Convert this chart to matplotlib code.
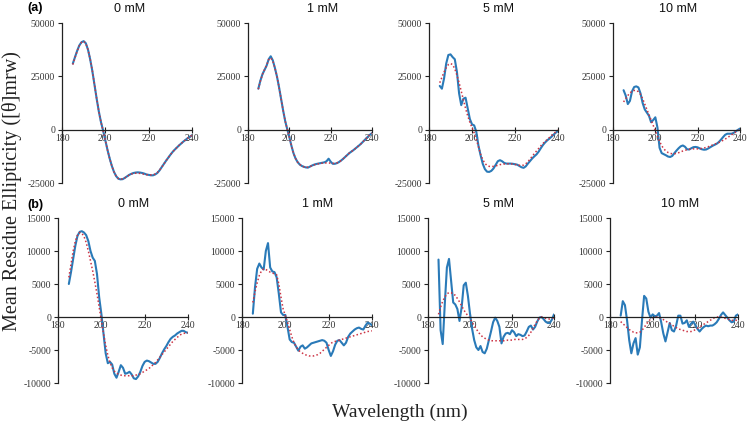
import numpy as np
import matplotlib
matplotlib.use("Agg")
import matplotlib.pyplot as plt

plt.rcParams['axes.unicode_minus'] = False

wavelength = list(range(185, 241))

a_titles = ["0 mM", "1 mM", "5 mM", "10 mM"]
b_titles = ["0 mM", "1 mM", "5 mM", "10 mM"]

a_yticks = [-25000, 0, 25000, 50000]
b_yticks = [-10000, -5000, 0, 5000, 10000, 15000]
xticks = [180, 200, 220, 240]

# Row (a) experimental
a1_exp = [31000, 34000, 37000, 39500, 41000, 41500, 40500, 37500, 33000, 27500,
          21000, 14500, 8500, 3500, -500, -5000, -9500, -13500, -17000, -19800,
          -21800, -23000, -23300, -23200, -22600, -21900, -21200, -20700, -20300, -20100,
          -20000, -20100, -20300, -20600, -21000, -21200, -21400, -21400, -21000, -20300,
          -19100, -17600, -16100, -14600, -13200, -11800, -10500, -9400, -8400, -7400,
          -6500, -5600, -4800, -4000, -3300, -2600]
a1_fit = [30500, 33800, 36800, 39300, 40900, 41400, 40400, 37500, 33100, 27600,
          21100, 14600, 8600, 3500, -500, -5000, -9500, -13500, -17000, -19800,
          -21800, -22900, -23200, -23100, -22600, -21900, -21300, -20800, -20500, -20400,
          -20400, -20500, -20700, -20900, -21100, -21200, -21200, -21100, -20800, -20100,
          -19000, -17600, -16100, -14600, -13200, -11800, -10500, -9400, -8400, -7400,
          -6500, -5600, -4800, -4000, -3300, -2600]
a2_exp = [19200, 23000, 26000, 28000, 30000, 33000, 34400, 32500, 29000, 25000,
          20000, 14500, 9000, 4000, 200, -3500, -7500, -11000, -13500, -15200,
          -16300, -17000, -17400, -17700, -17800, -17300, -16800, -16400, -16100, -15900,
          -15700, -15500, -15300, -14800, -13600, -15000, -16000, -16000, -15700, -15200,
          -14500, -13700, -12800, -11900, -11000, -10300, -9600, -8800, -8000, -7200,
          -6300, -5300, -4300, -3300, -2400, -1600]
a2_fit = [19000, 22800, 25900, 28200, 30300, 32800, 33600, 32200, 29000, 25000,
          20000, 14500, 9000, 4000, 200, -3500, -7500, -11000, -13500, -15200,
          -16300, -17000, -17400, -17600, -17600, -17300, -16900, -16500, -16200, -16000,
          -15800, -15700, -15600, -15600, -15600, -15700, -15800, -15800, -15600, -15200,
          -14500, -13700, -12800, -11900, -11000, -10300, -9600, -8800, -8000, -7200,
          -6300, -5300, -4300, -3300, -2400, -1600]
a3_exp = [20500, 19200, 24000, 31000, 35000, 35300, 34000, 33000, 27000, 17000,
          11500, 14500, 15000, 10000, 5000, 2500, 2000, -1000, -7500, -12000,
          -16000, -18500, -19700, -19800, -19300, -18200, -16500, -14800, -14300, -14800,
          -15600, -15900, -15900, -15900, -16000, -16200, -16400, -17000, -17600, -17900,
          -17200, -15900, -14700, -13500, -12500, -11600, -10300, -8700, -7200, -6000,
          -5000, -4200, -3300, -2300, -1400, -600]
a3_fit = [22000, 24500, 27000, 29000, 30500, 31000, 30500, 28500, 25500, 22000,
          18000, 14000, 10000, 6500, 3500, 1000, -1500, -4500, -8000, -11500,
          -14000, -15800, -16800, -17200, -17300, -17200, -17000, -16700, -16400, -16200,
          -16100, -16000, -16000, -16000, -16100, -16300, -16500, -16700, -16800, -16600,
          -16000, -15000, -13800, -12500, -11200, -10000, -8800, -7600, -6500, -5500,
          -4600, -3700, -2800, -1900, -1000, -200]
a4_exp = [18500, 16000, 12000, 13500, 18000, 20000, 20300, 19800, 17000, 12500,
          9500, 8000, 6500, 3500, 4500, 5800, 1000, -8500, -11000, -11500,
          -12000, -12600, -12800, -12300, -11000, -9800, -8700, -7800, -7400, -8000,
          -9200, -9300, -8700, -8200, -8100, -8300, -8800, -9200, -9400, -9300,
          -8800, -8200, -7600, -7100, -6600, -5800, -4700, -3500, -2400, -1900,
          -1900, -1900, -1500, -800, -100, 500]
a4_fit = [13000, 14500, 16000, 17200, 18000, 18400, 18400, 17800, 16500, 14500,
          12000, 9500, 7000, 4500, 2000, -500, -3000, -5500, -7500, -9000,
          -10000, -10700, -11100, -11300, -11300, -11100, -10800, -10400, -10000, -9700,
          -9400, -9200, -9100, -9000, -9000, -9000, -8900, -8800, -8600, -8300,
          -8000, -7600, -7200, -6800, -6400, -6000, -5500, -5000, -4400, -3800,
          -3100, -2400, -1700, -1100, -500, 0]

# Row (b) experimental
b1_exp = [5000, 6800, 8800, 10800, 12300, 12900, 13000, 12800, 12400, 11500,
          10000, 9000, 8500, 6500, 3000, 500, -2500, -5500, -7000, -6800,
          -7200, -8600, -9200, -8300, -7300, -7700, -8600, -8500, -8300, -8700,
          -9300, -9400, -9000, -8300, -7400, -6800, -6600, -6700, -6900, -7100,
          -7100, -6800, -6200, -5500, -4900, -4400, -3800, -3300, -3000, -2800,
          -2500, -2300, -2100, -2100, -2300, -2400]
b1_fit = [6000, 8000, 10000, 11500, 12400, 12800, 12700, 12200, 11300, 10000,
          8500, 7000, 5300, 3500, 1500, -500, -2500, -4300, -5800, -6900,
          -7700, -8200, -8500, -8700, -8800, -8900, -8900, -8900, -8900, -8900,
          -8900, -8800, -8700, -8600, -8400, -8200, -8000, -7800, -7500, -7200,
          -6900, -6500, -6100, -5700, -5300, -4900, -4500, -4100, -3700, -3400,
          -3100, -2800, -2600, -2500, -2400, -2400]
b2_exp = [500, 4500, 7300, 8100, 7500, 7200, 10000, 11200, 7500, 6900,
          6800, 6000, 3500, 700, 300, 300, -1500, -3400, -3800, -3900,
          -4500, -5100, -4500, -4300, -4800, -4600, -4300, -4000, -3900, -3800,
          -3700, -3600, -3500, -3600, -3900, -5000, -5900, -5200, -4200, -3600,
          -3500, -3900, -4300, -3900, -3000, -2500, -2200, -1900, -1700, -1600,
          -1800, -1900, -1300, -850, -1000, -1250]
b2_fit = [2200, 3800, 5200, 6300, 7000, 7300, 7200, 7000, 6800, 6700,
          6500, 6400, 5000, 3000, 1200, 200, -800, -1900, -3000, -3900,
          -4500, -5000, -5300, -5500, -5700, -5800, -5900, -5900, -5900, -5800,
          -5700, -5500, -5200, -4900, -4600, -4300, -4000, -3800, -3700, -3600,
          -3500, -3400, -3300, -3200, -3100, -3000, -2900, -2800, -2700, -2600,
          -2500, -2400, -2300, -2200, -2150, -2100]
b3_exp = [8700, -2000, -4100, 2000, 7500, 8800, 5500, 2200, 1900, 1200,
          -600, 1400, 4800, 5200, 3200, 500, -1800, -3500, -4600, -5000,
          -4400, -5300, -5500, -4800, -3500, -2200, -800, -100, -600, -1500,
          -4000, -3000, -2500, -2400, -2600, -2000, -2300, -2900, -2600, -2700,
          -2900, -2800, -2200, -1500, -1300, -1900, -1500, -700, -100, 0,
          -300, -700, -900, -900, -400, 400]
b3_fit = [400, 1500, 2400, 3000, 3500, 3700, 3700, 3400, 3300, 2800,
          2300, 1700, 1100, 600, 200, -200, -800, -1300, -1800, -2300,
          -2700, -3000, -3200, -3400, -3500, -3600, -3600, -3600, -3600, -3600,
          -3600, -3600, -3600, -3500, -3500, -3500, -3400, -3400, -3400, -3400,
          -3400, -3300, -3100, -2800, -2300, -1700, -1100, -600, -200, 0,
          -100, -200, -300, -300, -200, -100]
b4_exp = [200, 2400, 1800, -500, -3500, -5500, -4000, -3200, -5700, -4600,
          -500, 3200, 2800, 800, -100, 400, 100, 200, 600, -800,
          -2500, -3700, -2300, -900, -2000, -2200, -1300, 200, 200, -1000,
          -900, -500, -1500, -1000, -700, -1200, -1800, -2200, -1800, -1500,
          -1300, -1400, -1300, -1300, -1100, -800, -300, 300, 700, 300,
          -100, -500, -800, -700, 200, 400]
b4_fit = [-700, -1000, -1300, -1600, -1900, -2100, -2300, -2400, -2400, -2300,
          -2000, -1600, -1100, -700, -300, -100, 0, 0, -100, -200,
          -400, -600, -800, -1000, -1200, -1400, -1600, -1800, -1900, -2000,
          -2100, -2200, -2200, -2200, -2100, -1900, -1700, -1500, -1300, -1100,
          -900, -700, -500, -300, -100, 0, 0, 0, -100, -200,
          -300, -400, -500, -500, -500, -500]

row_a = [(a1_exp, a1_fit), (a2_exp, a2_fit), (a3_exp, a3_fit), (a4_exp, a4_fit)]
row_b = [(b1_exp, b1_fit), (b2_exp, b2_fit), (b3_exp, b3_fit), (b4_exp, b4_fit)]

W, H = 751, 423
fig = plt.figure(figsize=(W / 100, H / 100), dpi=100)

a_left = [62, 248, 429, 613]
a_width = [130, 124, 129, 127]
b_left = [58, 242, 428, 610]
b_width = [130, 130, 126, 128]
a_top, a_bot = 23, 183
b_top, b_bot = 218, 383

blue = '#2a7ab8'
red = '#cc3344'
tick_font = dict(family='Liberation Serif', size=7)


def setup(ax, yticks, title, title_dx):
    ax.spines['right'].set_visible(False)
    ax.spines['top'].set_visible(False)
    ax.spines['bottom'].set_position(('data', 0))
    ax.spines['left'].set_color('#222222')
    ax.spines['bottom'].set_color('#222222')
    ax.spines['left'].set_linewidth(0.9)
    ax.spines['bottom'].set_linewidth(0.9)
    ax.set_xlim(180, 240)
    ax.set_ylim(yticks[0], yticks[-1])
    ax.set_xticks(xticks)
    ax.set_yticks(yticks)
    ax.set_xticklabels([str(t) for t in xticks], fontdict=tick_font, color='#333333')
    ax.set_yticklabels([str(t) for t in yticks], fontdict=tick_font, color='#333333')
    ax.tick_params(axis='y', direction='out', length=3, width=0.8, pad=2, colors='#222222', labelcolor='#333333')
    ax.tick_params(axis='x', direction='inout', length=4, width=0.8, pad=1, colors='#222222', labelcolor='#333333')
    ax.set_facecolor('none')
    ax.text(0.5 + title_dx, 1.05, title, transform=ax.transAxes, ha='center', va='bottom',
            fontsize=9, family='Liberation Sans', color='#111111')


for i, (exp, fit) in enumerate(row_a):
    ax = fig.add_axes([a_left[i] / W, 1 - a_bot / H, a_width[i] / W, (a_bot - a_top) / H])
    ax.plot(wavelength, exp, color=blue, lw=1.5, solid_capstyle='round')
    ax.plot(wavelength, fit, color=red, lw=1.1, ls=(0, (1, 1.5)))
    setup(ax, a_yticks, a_titles[i], [0.02, 0.1, 0.04, 0.01][i])

for i, (exp, fit) in enumerate(row_b):
    ax = fig.add_axes([b_left[i] / W, 1 - b_bot / H, b_width[i] / W, (b_bot - b_top) / H])
    ax.plot(wavelength, exp, color=blue, lw=1.5, solid_capstyle='round')
    ax.plot(wavelength, fit, color=red, lw=1.1, ls=(0, (1, 1.5)))
    setup(ax, b_yticks, b_titles[i], [0.08, 0.08, 0.06, 0.05][i])

fig.text(35 / W, 1 - 8 / H, '(a)', fontsize=9, fontweight='bold', family='Liberation Sans',
         ha='center', va='center')
fig.text(35 / W, 1 - 205 / H, '(b)', fontsize=9, fontweight='bold', family='Liberation Sans',
         ha='center', va='center')
fig.text(12 / W, 1 - 191 / H, 'Mean Residue Ellipticity ([θ]mrw)', rotation=90, fontsize=14.5,
         family='Liberation Serif', ha='center', va='center', color='#222222')
fig.text(400 / W, 1 - 412 / H, 'Wavelength (nm)', fontsize=14, family='Liberation Serif',
         ha='center', va='center', color='#222222')

fig.savefig('out.png', dpi=100, facecolor='white')
